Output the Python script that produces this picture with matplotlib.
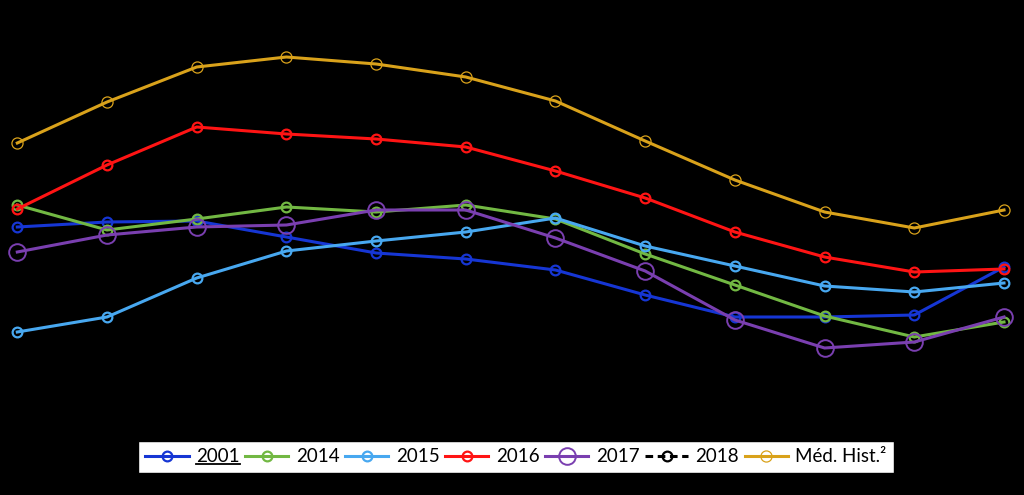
import matplotlib.pyplot as plt
import numpy as np

# monthly values (arbitrary units)
months = list(range(12))
s2001 = [17.3, 17.8, 17.9, 16.3, 14.7, 14.1, 13.0, 10.5, 8.3, 8.3, 8.5, 13.3]
s2014 = [19.5, 17.0, 18.1, 19.3, 18.8, 19.5, 18.1, 14.6, 11.5, 8.4, 6.3, 7.8]
s2015 = [6.8, 8.3, 12.2, 14.9, 15.9, 16.8, 18.2, 15.4, 13.4, 11.4, 10.8, 11.7]
s2016 = [19.1, 23.5, 27.3, 26.6, 26.1, 25.3, 22.9, 20.2, 16.8, 14.3, 12.8, 13.1]
s2017 = [14.8, 16.5, 17.3, 17.5, 19.0, 19.0, 16.2, 12.9, 8.0, 5.2, 5.8, 8.3]
s2018 = [14.5, 17.0, 17.8, 18.2, 19.0, 19.2, 16.4, 13.0, 11.0, 8.4, 6.2, 7.8]
med_hist = [25.7, 29.8, 33.3, 34.3, 33.6, 32.3, 29.9, 25.9, 22.0, 18.8, 17.2, 19.0]

fig = plt.figure(figsize=(10.24, 4.95), dpi=100, facecolor='black')
ax = fig.add_axes([0, 0, 1, 1])
ax.set_facecolor('black')
plt.rcParams['font.family'] = ['Lato', 'DejaVu Sans']

lw = 2.2
small = dict(marker='o', markersize=7, markerfacecolor='none', markeredgewidth=1.6)
ax.plot(months, s2001, color='#1636D4', lw=lw, label='2001', **small)
ax.plot(months, s2014, color='#72B843', lw=lw, label='2014', **small)
ax.plot(months, s2015, color='#48A8F0', lw=lw, label='2015', **small)
ax.plot(months, s2016, color='#FF1414', lw=lw, label='2016', **small)
ax.plot(months, s2017, color='#7A3FB0', lw=lw, label='2017', marker='o', markersize=12,
        markerfacecolor='none', markeredgewidth=1.4)
# black on black: keep it behind the coloured lines
ax.plot(months, s2018, color='black', lw=lw, ls=(0, (2.5, 1.5)), label='2018',
        zorder=1.5, **small)
ax.plot(months, med_hist, color='#D9A21B', lw=lw, label='Méd. Hist.²', marker='o',
        markersize=8, markerfacecolor='none', markeredgewidth=0.9)

# Feb sits at 107 px and Dec at 1004 px
step = (1004 - 107) / 10
ax.set_xlim(1 - 107 / step, 11 + (1024 - 1004) / step)
ax.set_ylim(-9.5, 40)
ax.axis('off')

leg = fig.legend(loc='center', bbox_to_anchor=(0.504, 0.077), ncol=7, frameon=True,
                 fancybox=False, fontsize=13.5, handlelength=2.3, handletextpad=0.4,
                 columnspacing=0.3, borderpad=0.4, borderaxespad=0)
leg.get_frame().set_facecolor('white')
leg.get_frame().set_edgecolor('black')
leg.get_frame().set_alpha(1)

# underline the first legend entry
fig.canvas.draw()
bb = leg.get_texts()[0].get_window_extent().transformed(fig.transFigure.inverted())
fig.add_artist(plt.Line2D([bb.x0, bb.x1], [bb.y0 + 0.002, bb.y0 + 0.002],
                          transform=fig.transFigure, color='black', lw=1.3, zorder=10))

fig.savefig('out.png', dpi=100, facecolor='black')
